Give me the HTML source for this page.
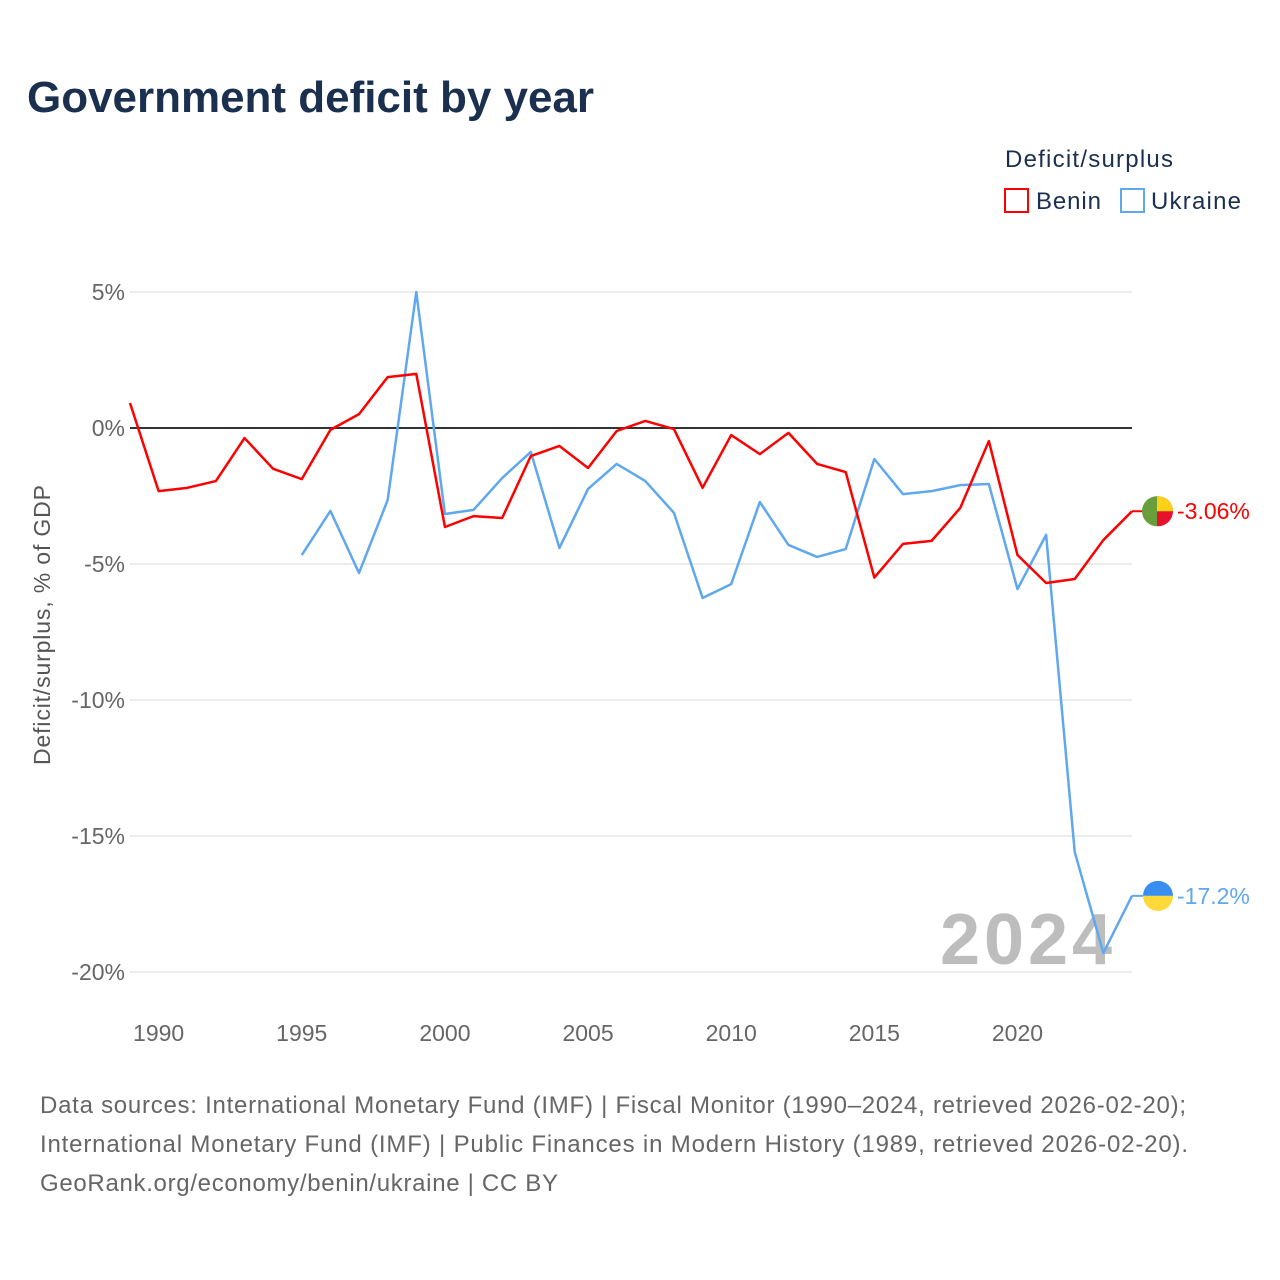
<!DOCTYPE html>
<html><head><meta charset="utf-8"><style>
body{margin:0;background:#fff;font-family:"Liberation Sans",sans-serif;}
svg{display:block}
</style></head><body>
<svg width="1280" height="1280" viewBox="0 0 1280 1280">
<text x="27" y="112" font-size="44" font-weight="bold" fill="#1b2f4e" textLength="567">Government deficit by year</text>
<text x="1005" y="167" font-size="24" fill="#1b2f4e" textLength="168">Deficit/surplus</text>
<g><rect x="1005" y="189" width="23" height="23" fill="none" stroke="#f00" stroke-width="2"/><text x="1036" y="209" font-size="24" fill="#1b2f4e" textLength="65">Benin</text></g>
<g><rect x="1121" y="189" width="23" height="23" fill="none" stroke="#5fa8ee" stroke-width="2"/><text x="1151" y="209" font-size="24" fill="#1b2f4e" textLength="90">Ukraine</text></g>
<g id="grid"></g>
<text x="1112" y="964" font-size="72" font-weight="bold" fill="#bdbdbd" text-anchor="end" textLength="172">2024</text>
<g id="plot"></g>
<text transform="translate(50,625) rotate(-90)" font-size="23" fill="#555" text-anchor="middle" textLength="280">Deficit/surplus, % of GDP</text>
<text x="40" y="1113" font-size="24" fill="#666" textLength="1146">Data sources: International Monetary Fund (IMF) | Fiscal Monitor (1990–2024, retrieved 2026-02-20);</text>
<text x="40" y="1152" font-size="24" fill="#666" textLength="1148">International Monetary Fund (IMF) | Public Finances in Modern History (1989, retrieved 2026-02-20).</text>
<text x="40" y="1191" font-size="24" fill="#666" textLength="518">GeoRank.org/economy/benin/ukraine | CC BY</text>
</svg>
<script>
const yTicks=[5,0,-5,-10,-15,-20];
const yTickLabels=["5%","0%","-5%","-10%","-15%","-20%"];
const xTicks=[1990,1995,2000,2005,2010,2015,2020];
const beninYears=[1989,1990,1991,1992,1993,1994,1995,1996,1997,1998,1999,2000,2001,2002,2003,2004,2005,2006,2007,2008,2009,2010,2011,2012,2013,2014,2015,2016,2017,2018,2019,2020,2021,2022,2023,2024];
const beninValues=[0.92,-2.32,-2.2,-1.95,-0.37,-1.5,-1.88,-0.07,0.51,1.87,1.99,-3.64,-3.24,-3.31,-1.03,-0.66,-1.47,-0.11,0.26,-0.04,-2.2,-0.26,-0.96,-0.18,-1.32,-1.62,-5.5,-4.26,-4.15,-2.94,-0.48,-4.67,-5.7,-5.55,-4.12,-3.06];
const ukraineYears=[1995,1996,1997,1998,1999,2000,2001,2002,2003,2004,2005,2006,2007,2008,2009,2010,2011,2012,2013,2014,2015,2016,2017,2018,2019,2020,2021,2022,2023,2024];
const ukraineValues=[-4.67,-3.05,-5.33,-2.65,5.0,-3.16,-3.01,-1.84,-0.88,-4.41,-2.24,-1.32,-1.95,-3.12,-6.25,-5.74,-2.72,-4.3,-4.74,-4.45,-1.14,-2.43,-2.32,-2.1,-2.06,-5.92,-3.93,-15.59,-19.3,-17.2];
const NS="http://www.w3.org/2000/svg";
const X=y=>130+(y-1989)*(1002/35);
const Y=v=>428-v*27.2;
function mk(t,a,p){const e=document.createElementNS(NS,t);for(const k in a)e.setAttribute(k,a[k]);p.appendChild(e);return e;}
const grid=document.getElementById('grid'),plot=document.getElementById('plot');
yTicks.forEach((v,i)=>{
 const l=mk('line',{x1:130,x2:1132,y1:Y(v),y2:Y(v),stroke:'#e6e6e6','stroke-width':1.5},grid);
 
 
 const t=mk('text',{x:125,y:Y(v)+8,'font-size':23,fill:'#666','text-anchor':'end'},grid);t.textContent=yTickLabels[i];
 
 
});
xTicks.forEach(y=>{
 const t=mk('text',{x:X(y),y:1041,'font-size':23,fill:'#666','text-anchor':'middle'},grid);t.textContent=y;
 
 
});
const z=mk('line',{x1:130,x2:1132,y1:Y(0),y2:Y(0),stroke:'#333','stroke-width':2},plot);


function series(years,vals,col,name){
 const p=mk('polyline',{points:years.map((y,i)=>X(y)+','+Y(vals[i])).join(' '),fill:'none',stroke:col,'stroke-width':2.5,'stroke-linejoin':'round'},plot);
 
 
}
series(ukraineYears,ukraineValues,'#5fa8ee','ukraine-line');
series(beninYears,beninValues,'#ff0000','benin-line');
const bv=beninValues[beninValues.length-1],uv=ukraineValues[ukraineValues.length-1];
const bx=1158,by=Y(bv),ux=1158,uy=Y(uv);
let g=mk('g',{},plot);


mk('line',{x1:1132,x2:1143,y1:by,y2:by,stroke:'#f00','stroke-width':2},g);
mk('circle',{cx:bx,cy:by,r:15,fill:'#e8112d'},g);
mk('path',{d:`M${bx-1},${by} L${bx+15},${by} A15 15 0 0 0 ${bx-1} ${by-15} Z`,fill:'#fcd116'},g);
mk('path',{d:`M${bx-1},${by-15} A15 15 0 0 0 ${bx-1} ${by+15} Z`,fill:'#6a9e3c'},g);
let t=mk('text',{x:1177,y:by+8,'font-size':23,fill:'#f00'},g);t.textContent=bv.toFixed(2)+'%';
g=mk('g',{},plot);


mk('line',{x1:1132,x2:1143,y1:uy,y2:uy,stroke:'#5fa8ee','stroke-width':2},g);
mk('path',{d:`M${ux-15},${uy} A15 15 0 0 1 ${ux+15} ${uy} Z`,fill:'#3a8ef0'},g);
mk('path',{d:`M${ux-15},${uy} A15 15 0 0 0 ${ux+15} ${uy} Z`,fill:'#ffd83a'},g);
t=mk('text',{x:1177,y:uy+8,'font-size':23,fill:'#5fa8ee'},g);t.textContent=uv.toFixed(1)+'%';
</script>
</body></html>
